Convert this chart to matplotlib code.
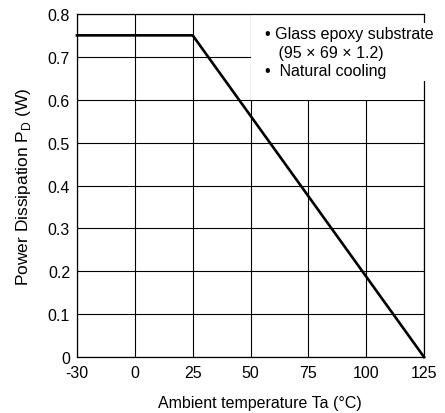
import numpy as np
import matplotlib
matplotlib.use("Agg")
import matplotlib.pyplot as plt
from matplotlib.patches import Rectangle

plt.rcParams['font.family'] = ['Liberation Sans', 'DejaVu Sans']

# axis ticks (x axis is drawn with equal spacing per tick)
x_ticks = [-30, 0, 25, 50, 75, 100, 125]
y_ticks = [0, 0.1, 0.2, 0.3, 0.4, 0.5, 0.6, 0.7, 0.8]
y_labels = ["0", "0.1", "0.2", "0.3", "0.4", "0.5", "0.6", "0.7", "0.8"]

# derating curve
temp = [-30, 25, 125]
power = [0.75, 0.75, 0.0]

pos = np.arange(len(x_ticks))
temp_pos = np.interp(temp, x_ticks, pos)

fig = plt.figure(figsize=(4.45, 4.14), dpi=100)
ax = fig.add_axes([0.173, 0.135, 0.780, 0.829])

ax.set_xlim(pos[0], pos[-1])
ax.set_ylim(0, 0.8)
ax.set_xticks(pos)
ax.set_xticklabels([str(t) for t in x_ticks])
ax.set_yticks(y_ticks)
ax.set_yticklabels(y_labels)
ax.tick_params(length=0, labelsize=11.5)
ax.tick_params(axis='x', pad=6)
ax.tick_params(axis='y', pad=5)
ax.grid(True, color='black', linewidth=0.8)
ax.set_axisbelow(True)
for s in ax.spines.values():
    s.set_linewidth(0.9)

# blank area behind the note
ax.add_patch(Rectangle((3, 0.6), 3, 0.2, facecolor='white', edgecolor='none', zorder=1.5))

ax.plot(temp_pos, power, color='black', linewidth=1.9, zorder=3, clip_on=False)

ax.text(3.25, 0.772, "• Glass epoxy substrate\n   (95 × 69 × 1.2)\n•  Natural cooling",
        fontsize=11.5, va='top', ha='left', linespacing=1.3, zorder=4,
        bbox=dict(facecolor='white', edgecolor='none', pad=2))

ax.set_xlabel("Ambient temperature Ta (°C)", fontsize=11.5)
ax.xaxis.set_label_coords(0.527, -0.11)
ax.set_ylabel("Power Dissipation P$_\\mathregular{D}$ (W)", fontsize=12.5)
ax.yaxis.set_label_coords(-0.128, 0.50)

fig.savefig("out.png", dpi=100)
